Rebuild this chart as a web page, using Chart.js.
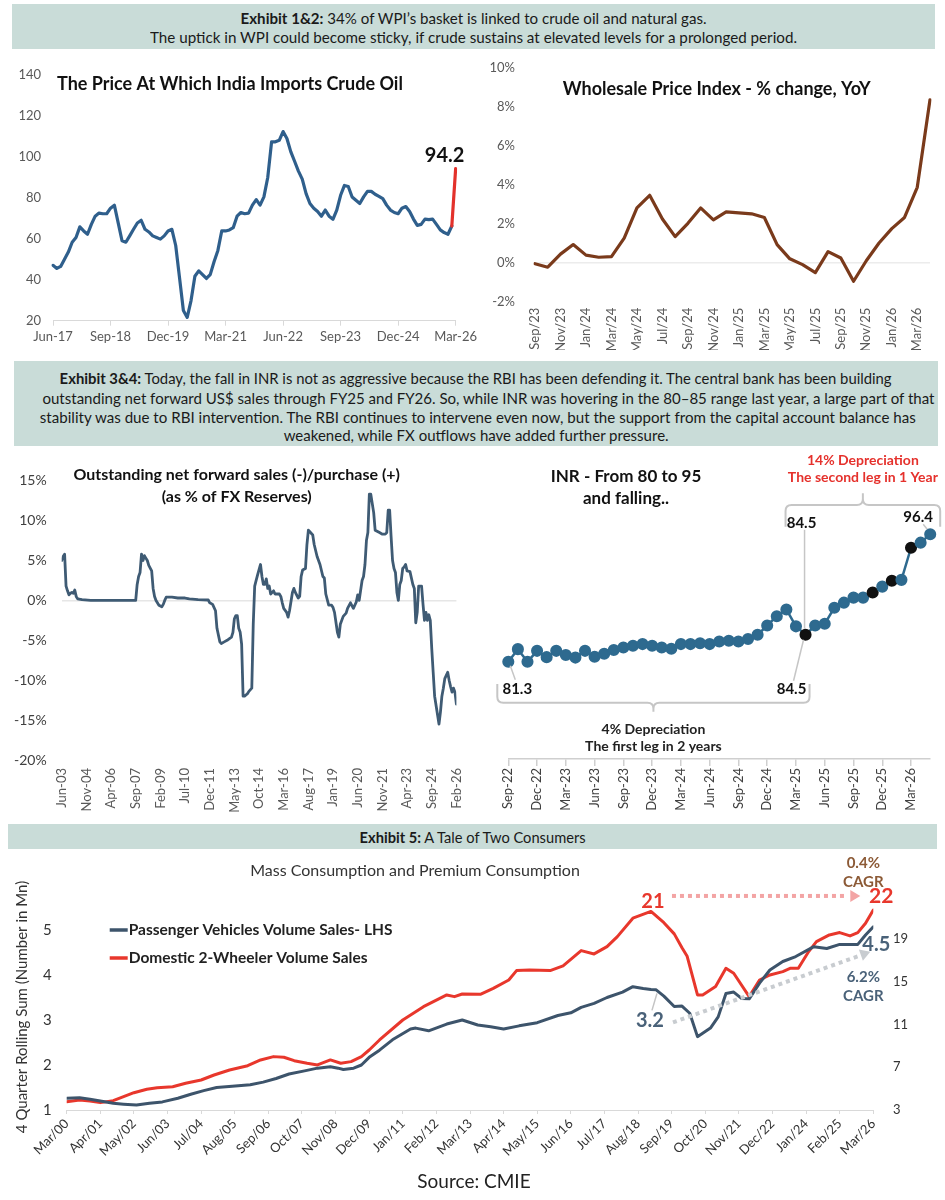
<!DOCTYPE html>
<html lang="en">
<head>
  <meta charset="UTF-8">
  <title>Crude, WPI, INR and two consumers</title>
  <script src="https://cdn.jsdelivr.net/npm/chart.js@4.4.1/dist/chart.umd.min.js"></script>
  <style>
    body { margin: 0; background: #fff; font-family: Lato, "Open Sans", sans-serif; color: #1a1a1a; }
    .page { position: relative; width: 945px; height: 1200px; overflow: hidden; }
    .banner { position: absolute; background: #c9dcd8; }
    .ln { position: absolute; left: 0; right: 0; text-align: center; white-space: nowrap; line-height: 20px; }
    .ln span { display: inline-block; transform-origin: center; }
    canvas { position: absolute; }
  </style>
</head>
<body>
<div class="page">
  <div class="banner" style="left:12px;top:4px;width:923px;height:45px;font-size:15px">
    <div class="ln" style="top:4px"><span data-fit="466"><b>Exhibit 1&amp;2:</b> 34% of WPI’s basket is linked to crude oil and natural gas.</span></div>
    <div class="ln" style="top:23px"><span data-fit="647">The uptick in WPI could become sticky, if crude sustains at elevated levels for a prolonged period.</span></div>
  </div>

  <canvas id="crudeChart" width="480" height="295" style="left:0;top:55px"></canvas>
  <canvas id="wpiChart" width="475" height="310" style="left:470px;top:40px"></canvas>

  <div class="banner" style="left:14px;top:361px;width:924px;height:85px;font-size:16px">
    <div class="ln" style="top:6.7px"><span data-fit="832"><b>Exhibit 3&amp;4:</b> Today, the fall in INR is not as aggressive because the RBI has been defending it. The central bank has been building</span></div>
    <div class="ln" style="top:26.7px"><span data-fit="892">outstanding net forward US$ sales through FY25 and FY26. So, while INR was hovering in the 80–85 range last year, a large part of that</span></div>
    <div class="ln" style="top:45.7px"><span data-fit="876">stability was due to RBI intervention. The RBI continues to intervene even now, but the support from the capital account balance has</span></div>
    <div class="ln" style="top:64px"><span data-fit="385">weakened, while FX outflows have added further pressure.</span></div>
  </div>

  <canvas id="fwdChart" width="480" height="365" style="left:0;top:455px"></canvas>
  <canvas id="inrChart" width="475" height="370" style="left:470px;top:450px"></canvas>

  <div class="banner" style="left:8px;top:824px;width:929px;height:25px;font-size:15px">
    <div class="ln" style="top:3px"><span data-fit="226"><b>Exhibit 5:</b> A Tale of Two Consumers</span></div>
  </div>

  <canvas id="consChart" width="945" height="350" style="left:0;top:850px"></canvas>
</div>

<script>
// ---------- data ----------
// Indian crude basket, US$/bbl, monthly from Jun-17
const crudePrice = [
  47, 45.5, 46.5, 50, 53.5, 58.3, 60.6,
  65.8, 63.8, 62.2, 67, 71, 72.5, 72.2, 72.2, 74.9, 76.4, 67.7, 59,
  58.3, 61.4, 64.6, 67.7, 69, 64.6, 63.3, 61.4, 60.6, 59.8, 61.4, 63.8,
  64.6, 56.7, 40.9, 25, 21.6, 29.8, 41.7, 44.3, 42.5, 40.6, 42.5, 48.8,
  54.3, 63.8, 63.8, 64.3, 65.4, 71, 72.8, 72.2, 72.5, 76.4, 79.1, 76.4,
  80.4, 89.9, 107.3, 107.3, 108, 112.3, 108.9, 102.5, 97.8, 93, 89.1, 82,
  77.2, 74.9, 73.3, 71, 74, 71, 69.5, 74, 81.2, 86, 85.5, 80.4,
  78.8, 77.2, 80.4, 83.1, 83.1, 81.7, 80.7, 79.6, 76.4, 74, 72.8, 72.2,
  74.9, 75.7, 73.3, 69.6, 66.5, 67, 69.6, 69.3, 69.6, 67, 64.3, 63,
  62.2, 66.2, 94.2
];
const crudeTickEvery = 15;

// WPI % change YoY, monthly from Sep/23
const wpiChange = [
  -0.05, -0.23, 0.44, 0.93, 0.39, 0.28, 0.31, 1.26, 2.81, 3.46, 2.24, 1.34,
  2.02, 2.81, 2.2, 2.61, 2.56, 2.51, 2.32, 0.93, 0.2, -0.1, -0.51, 0.57,
  0.24, -0.95, 0.1, 1.01, 1.75, 2.32, 3.87, 8.36
];

// Outstanding net forward position, % of FX reserves; months after Jun-03
const fwdMonth = [
  0, 1, 2, 3, 4, 5, 6, 7, 8, 9, 10, 11, 14, 20, 51, 52, 53, 54, 55, 56, 57, 58, 59, 60, 62, 63, 64, 65,
  67, 69, 70, 71, 72, 76, 80, 85, 88, 94, 101, 102, 104, 106, 107, 109, 110, 112, 114, 117, 118, 119,
  120, 121, 122, 123, 124, 125, 126, 128, 129, 131, 132, 133, 134, 135, 137, 138, 139, 140, 141, 142,
  143, 144, 146, 147, 150, 151, 152, 153, 155, 156, 157, 159, 160, 161, 163, 164, 165, 166, 168, 169,
  170, 171, 173, 174, 176, 178, 180, 181, 182, 184, 186, 187, 188, 190, 191, 192, 194, 196, 197, 199,
  201, 203, 204, 205, 207, 208, 209, 210, 211, 212, 213, 215, 216, 219, 221, 223, 224, 225, 226, 227,
  228, 229, 230, 231, 232, 233, 234, 235, 236, 237, 238, 240, 242, 243, 244, 245, 246, 248, 249, 250,
  251, 252, 253, 254, 255, 256, 257, 260, 261, 262, 263, 264, 266, 267, 268, 269, 270, 271, 272
];
const fwdValue = [
  5.0, 5.5, 5.8, 1.8, 1.2, 0.7, 0.9, 1.0, 0.9, 1.3, 0.5, 0.2, 0.1, 0.0, 0.0, 2.0, 3.0, 3.5, 5.8, 5.0, 5.6, 5.3, 5.0, 4.4, 3.7, 1.5, 0.5, 0.0,
  -0.6, -0.8, -0.5, 0.0, 0.4, 0.4, 0.3, 0.3, 0.2, 0.1, 0.05, -0.3, -0.5, -1.3, -3.5, -5.2, -5.4, -5.2, -5.0, -4.6, -4.0, -2.3,
  -1.9, -1.9, -3.5, -4.0, -5.5, -12.0, -12.0, -11.7, -11.4, -11.0, -3.0, 1.8, 2.5, 3.2, 4.5, 3.0, 2.0, 2.0, 2.7, 1.5,
  1.8, 0.8, 1.2, 0.8, 0.8, 0.5, -0.3, -1.0, -1.5, -2.1, -1.3, 1.0, 1.5, 1.0, 0.3, 0.5, 3.0, 3.8, 4.0, 7.0,
  8.8, 8.6, 8.2, 7.0, 5.5, 4.5, 3.0, 2.8, 0.8, -0.6, -0.6, -0.9, -1.5, -4.0, -4.6, -3.0, -2.0, -1.6, -1.0, -0.3,
  -1.0, -0.2, 0.7, 0.0, 2.5, 3.0, 4.5, 7.5, 8.5, 13.3, 13.3, 11.0, 8.8, 8.5, 8.3, 8.3, 8.5, 11.3, 11.3, 8.0,
  5.0, 4.0, 3.5, 1.0, 0.0, 2.0, 2.5, 4.0, 4.2, 4.5, 3.7, 3.6, 2.0, 1.5, -2.8, -1.5, 1.8, 1.8, -0.5, -2.5,
  -1.5, -2.5, -1.8, -2.5, -6.0, -9.0, -12.0, -15.5, -14.0, -12.0, -11.0, -9.8, -9.0, -10.0, -10.8, -11.5, -11.0, -11.5, -13.0
];
const fwdTickLabels = ['Jun-03', 'Nov-04', 'Apr-06', 'Sep-07', 'Feb-09', 'Jul-10', 'Dec-11', 'May-13', 'Oct-14',
  'Mar-16', 'Aug-17', 'Jan-19', 'Jun-20', 'Nov-21', 'Apr-23', 'Sep-24', 'Feb-26'];
const fwdTickStep = 17;

// INR per US$, monthly from Sep-22
const inrRate = [
  81.3, 82.8, 81.3, 82.6, 81.85, 82.6, 82.1, 81.8, 82.6, 81.9, 82.25, 82.7,
  83.0, 83.2, 83.4, 83.2, 83.0, 82.85, 83.4, 83.4, 83.5, 83.4, 83.7, 83.8,
  83.7, 84.0, 84.5, 85.6, 86.7, 87.5, 85.5, 84.5, 85.6, 85.8, 87.7, 88.3,
  88.9, 88.9, 89.5, 90.2, 90.9, 91.0, 94.8, 95.4, 96.4
];
const inrMarked = [31, 38, 40, 42];
const inrTickEvery = 3;

// 4-quarter rolling sums (mn); months after Mar/00
const pvMonth = [0, 5, 9, 13, 18, 22, 27, 32, 37, 43, 48, 53, 58, 64, 71, 76, 81, 86, 92, 97, 102, 105, 107, 111,
  114, 117, 121, 126, 133, 135, 140, 147, 153, 159, 164, 169, 175, 182, 190, 195, 199, 204, 209, 215, 219,
  223, 226, 228, 231, 235, 238, 241, 244, 249, 252, 255, 258, 261, 264, 268, 272, 277, 282, 289, 294, 299, 306, 309, 312];
const pvSales = [1.26, 1.27, 1.24, 1.20, 1.15, 1.13, 1.11, 1.15, 1.18, 1.26, 1.35, 1.43, 1.50, 1.53, 1.56, 1.62, 1.70, 1.80, 1.87, 1.93, 1.96, 1.93, 1.90, 1.93,
  2.0, 2.17, 2.33, 2.56, 2.80, 2.82, 2.76, 2.91, 3.0, 2.89, 2.85, 2.80, 2.87, 2.94, 3.10, 3.16, 3.28, 3.37, 3.50, 3.62, 3.74,
  3.70, 3.68, 3.67, 3.53, 3.30, 3.31, 3.15, 2.63, 2.82, 3.07, 3.59, 3.62, 3.48, 3.47, 3.82, 4.11, 4.30, 4.41, 4.63, 4.59, 4.68, 4.68, 4.89, 5.07];
const twMonth = [0, 5, 9, 13, 18, 22, 26, 31, 35, 41, 46, 52, 57, 63, 70, 75, 80, 84, 88, 93, 97, 102, 106, 110,
  114, 117, 121, 130, 138, 147, 150, 153, 160, 165, 171, 174, 179, 187, 192, 199, 204, 209, 213, 219, 226,
  231, 235, 238, 240, 244, 246, 251, 255, 258, 264, 268, 272, 277, 280, 283, 287, 290, 295, 299, 303, 306, 309, 312];
const twSales = [3.78, 3.94, 3.84, 3.69, 3.87, 4.25, 4.62, 4.94, 5.09, 5.18, 5.5, 5.81, 6.28, 6.75, 7.15, 7.69, 8.0, 7.94, 7.62, 7.38, 7.22, 7.69, 7.38, 7.53,
  8.0, 8.62, 9.56, 11.43, 12.68, 13.78, 13.62, 13.87, 13.84, 14.40, 15.18, 16.06, 16.12, 16.06, 16.5, 17.93, 17.62, 18.3, 19.24, 20.97, 21.6,
  20.55, 19.5, 18.2, 17.4, 13.78, 13.78, 14.56, 16.28, 15.81, 13.62, 15.18, 15.65, 15.96, 16.28, 16.28, 17.84, 18.78, 19.4, 19.62, 19.31, 19.62, 20.5, 21.74];
const consPeakMonth = 226; // FY19 peak the CAGR arrows start from
const consTickLabels = ['Mar/00', 'Apr/01', 'May/02', 'Jun/03', 'Jul/04', 'Aug/05', 'Sep/06', 'Oct/07', 'Nov/08',
  'Dec/09', 'Jan/11', 'Feb/12', 'Mar/13', 'Apr/14', 'May/15', 'Jun/16', 'Jul/17', 'Aug/18', 'Sep/19', 'Oct/20',
  'Nov/21', 'Dec/22', 'Jan/24', 'Feb/25', 'Mar/26'];
const consTickStep = 13;
const pvTicks = [1, 2, 3, 4, 5];
const twTicks = [3, 7, 11, 15, 19];

// ---------- helpers ----------
const MON = ['Jan', 'Feb', 'Mar', 'Apr', 'May', 'Jun', 'Jul', 'Aug', 'Sep', 'Oct', 'Nov', 'Dec'];
function monthRange(year, month, count, sep) {
  return Array.from({ length: count }, (_, i) => {
    const t = year * 12 + month + i;
    return MON[t % 12] + sep + String(Math.floor(t / 12) % 100).padStart(2, '0');
  });
}
function txt(ctx, s, x, y, font, color, align) {
  ctx.save();
  ctx.font = font;
  ctx.fillStyle = color;
  ctx.textAlign = align || 'center';
  ctx.textBaseline = 'middle';
  ctx.fillText(s, x, y);
  ctx.restore();
}
function seg(ctx, x1, y1, x2, y2, color, width) {
  ctx.save();
  ctx.strokeStyle = color;
  ctx.lineWidth = width;
  ctx.beginPath();
  ctx.moveTo(x1, y1);
  ctx.lineTo(x2, y2);
  ctx.stroke();
  ctx.restore();
}
// dotted line with a solid triangle head
function dottedArrow(ctx, x1, y1, x2, y2, color) {
  const a = Math.atan2(y2 - y1, x2 - x1), head = 10, half = 6;
  const bx = x2 - head * Math.cos(a), by = y2 - head * Math.sin(a);
  ctx.save();
  ctx.strokeStyle = color;
  ctx.fillStyle = color;
  ctx.lineWidth = 4;
  ctx.setLineDash([4, 4]);
  ctx.beginPath();
  ctx.moveTo(x1, y1);
  ctx.lineTo(bx - 3 * Math.cos(a), by - 3 * Math.sin(a));
  ctx.stroke();
  ctx.setLineDash([]);
  ctx.beginPath();
  ctx.moveTo(x2, y2);
  ctx.lineTo(bx - half * Math.sin(a), by + half * Math.cos(a));
  ctx.lineTo(bx + half * Math.sin(a), by - half * Math.cos(a));
  ctx.closePath();
  ctx.fill();
  ctx.restore();
}
// rounded bracket: bar at y, ends run to endY, middle notch runs to notchY
function bracket(ctx, left, right, y, endY, notchY, color) {
  const cx = (left + right) / 2, r = 6;
  const s = Math.sign(endY - y), n = Math.sign(notchY - y);
  ctx.save();
  ctx.strokeStyle = color;
  ctx.lineWidth = 2;
  ctx.beginPath();
  ctx.moveTo(left, endY);
  ctx.lineTo(left, y + s * r);
  ctx.quadraticCurveTo(left, y, left + r, y);
  ctx.lineTo(cx - r, y);
  ctx.quadraticCurveTo(cx, y, cx, y + n * r);
  ctx.lineTo(cx, notchY);
  ctx.moveTo(cx, y + n * r);
  ctx.quadraticCurveTo(cx, y, cx + r, y);
  ctx.lineTo(right - r, y);
  ctx.quadraticCurveTo(right, y, right, y + s * r);
  ctx.lineTo(right, endY);
  ctx.stroke();
  ctx.restore();
}

Chart.defaults.font.family = 'Lato, "Open Sans", sans-serif';
Chart.defaults.color = '#595959';
Chart.defaults.responsive = false;
Chart.defaults.animation = false;
Chart.defaults.plugins.legend.display = false;
Chart.defaults.plugins.tooltip.enabled = false;
Chart.defaults.elements.point.radius = 0;
Chart.defaults.elements.line.borderJoinStyle = 'round';
Chart.defaults.elements.line.borderCapStyle = 'round';

const BOLD = 'bold ';
const hiddenGrid = { display: false, drawTicks: false };

// ---------- chart 1: crude oil ----------
const crudeNotes = {
  id: 'crudeNotes',
  afterDatasetsDraw(chart) {
    const { ctx, scales: { x, y } } = chart;
    txt(ctx, 'The Price At Which India Imports Crude Oil', 57, 29, BOLD + '18px Lato', '#111', 'left');
    const last = crudePrice.length - 1;
    txt(ctx, String(crudePrice[last]), x.getPixelForValue(last) - 11, y.getPixelForValue(crudePrice[last]) - 13,
      BOLD + '20px Lato', '#111');
  }
};
new Chart(document.getElementById('crudeChart'), {
  type: 'line',
  data: {
    labels: monthRange(2017, 5, crudePrice.length, '-'),
    datasets: [{
      data: crudePrice,
      borderColor: '#2f5f8c',
      borderWidth: 3.2,
      segment: { borderColor: c => c.p1DataIndex === crudePrice.length - 1 ? '#e3312b' : undefined }
    }]
  },
  options: {
    layout: { padding: { top: 12.7, right: 22, left: 0, bottom: 0 } },
    scales: {
      x: {
        afterBuildTicks: s => { s.ticks = s.ticks.filter(t => t.value % crudeTickEvery === 0); },
        ticks: { autoSkip: false, maxRotation: 0, font: { size: 13 }, padding: 3 },
        grid: { drawOnChartArea: false, tickLength: 5, color: '#d9d9d9' },
        border: { color: '#d9d9d9' },
        afterFit: s => { s.height = 29.3; }
      },
      y: {
        min: 20, max: 140,
        ticks: { stepSize: 20, padding: 12, font: { size: 13 } },
        grid: hiddenGrid, border: { display: false },
        afterFit: s => { s.width = 53; }
      }
    }
  },
  plugins: [crudeNotes]
});

// ---------- chart 2: WPI ----------
const wpiNotes = {
  id: 'wpiNotes',
  afterDatasetsDraw(chart) {
    txt(chart.ctx, 'Wholesale Price Index - % change, YoY', 246.7, 49.3, BOLD + '18px Lato', '#111');
  }
};
new Chart(document.getElementById('wpiChart'), {
  type: 'line',
  data: {
    labels: monthRange(2023, 8, wpiChange.length, '/'),
    datasets: [{ data: wpiChange, borderColor: '#7a3a1b', borderWidth: 3.2 }]
  },
  options: {
    layout: { padding: { top: 16.7, right: 15, left: 0, bottom: 0 } },
    scales: {
      x: {
        afterBuildTicks: s => { s.ticks = s.ticks.filter(t => t.value % 2 === 0); },
        ticks: { autoSkip: false, minRotation: 90, maxRotation: 90, font: { size: 13 }, padding: 6 },
        grid: hiddenGrid, border: { display: false },
        afterFit: s => { s.height = 48.3; }
      },
      y: {
        min: -2, max: 10,
        ticks: { stepSize: 2, padding: 20, font: { size: 13 }, callback: v => v + '%' },
        grid: { drawTicks: false, lineWidth: 1.5, color: c => c.tick.value === 0 ? '#ececec' : 'transparent' },
        border: { display: false },
        afterFit: s => { s.width = 65; }
      }
    }
  },
  plugins: [wpiNotes]
});

// ---------- chart 3: forward book ----------
const fwdNotes = {
  id: 'fwdNotes',
  afterDatasetsDraw(chart) {
    const ctx = chart.ctx;
    txt(ctx, 'Outstanding net forward sales (-)/purchase (+)', 236.7, 20, BOLD + '16px Lato', '#111');
    txt(ctx, '(as % of FX Reserves)', 236.7, 41.7, BOLD + '16px Lato', '#111');
  }
};
new Chart(document.getElementById('fwdChart'), {
  type: 'line',
  data: {
    datasets: [{
      data: fwdMonth.map((m, i) => ({ x: m, y: fwdValue[i] })),
      borderColor: '#3f5b74',
      borderWidth: 2.8
    }]
  },
  options: {
    layout: { padding: { top: 25.7, right: 18.3, left: 0, bottom: 0 } },
    scales: {
      x: {
        type: 'linear', min: 0, max: fwdMonth[fwdMonth.length - 1],
        afterBuildTicks: s => { s.ticks = fwdTickLabels.map((_, i) => ({ value: i * fwdTickStep })); },
        ticks: { autoSkip: false, minRotation: 90, maxRotation: 90, font: { size: 13 }, padding: 8,
          callback: v => fwdTickLabels[Math.round(v / fwdTickStep)] },
        grid: hiddenGrid, border: { display: false },
        afterFit: s => { s.height = 60; }
      },
      y: {
        min: -20, max: 15,
        ticks: { stepSize: 5, padding: 15, font: { size: 14 }, color: '#404040', callback: v => v + '%' },
        grid: { drawTicks: false, lineWidth: 1.5, color: c => c.tick.value === 0 ? '#e6e6e6' : 'transparent' },
        border: { display: false },
        afterFit: s => { s.width = 61.7; }
      }
    }
  },
  plugins: [fwdNotes]
});

// ---------- chart 4: INR ----------
const inrNotes = {
  id: 'inrNotes',
  afterDatasetsDraw(chart) {
    const { ctx, chartArea: area, scales: { x, y } } = chart;
    const px = i => x.getPixelForValue(i), py = i => y.getPixelForValue(inrRate[i]);
    const first = 0, trough = inrMarked[0], last = inrRate.length - 1;
    const grey = '#c6c6c6', lbl = BOLD + '15px Lato';

    txt(ctx, 'INR - From 80 to 95', 156, 26.7, BOLD + '17px Lato', '#111');
    txt(ctx, 'and falling..', 156, 48.3, BOLD + '17px Lato', '#111');

    // first leg
    seg(ctx, px(first) + 2, py(first) + 4, px(first) + 7, py(first) + 18, grey, 1.5);
    txt(ctx, inrRate[first].toFixed(1), px(first) + 9, py(first) + 27, lbl, '#111');
    seg(ctx, px(trough) - 2, py(trough) + 5, px(trough) - 12, py(trough) + 46, grey, 1.5);
    txt(ctx, inrRate[trough].toFixed(1), px(trough) - 14, py(trough) + 54, lbl, '#111');
    bracket(ctx, px(first) - 11, px(trough) + 4, area.bottom - 56.3, area.bottom - 75, area.bottom - 47.3, grey);
    txt(ctx, '4% Depreciation', (px(first) + px(trough)) / 2 - 3.5, area.bottom - 30, BOLD + '14px Lato', '#222');
    txt(ctx, 'The first leg in 2 years', (px(first) + px(trough)) / 2 - 3.5, area.bottom - 12.5, BOLD + '14px Lato', '#222');

    // second leg
    seg(ctx, px(trough) - 1, py(trough) - 6, px(trough) - 1, py(trough) - 105, grey, 1.5);
    txt(ctx, inrRate[trough].toFixed(1), px(trough) - 4, py(trough) - 112, lbl, '#111');
    seg(ctx, px(last) - 3, py(last) - 5, px(last) - 7, py(last) - 10, grey, 1.5);
    txt(ctx, inrRate[last].toFixed(1), px(last) - 12, py(last) - 17, lbl, '#111');
    bracket(ctx, px(trough) - 20, px(last) + 10, area.top + 35, area.top + 56.7, area.top + 23.3, grey);
    const cx = (px(trough) - 20 + px(last) + 10) / 2;
    txt(ctx, '14% Depreciation', cx, area.top - 10, BOLD + '14px Lato', '#e5312c');
    txt(ctx, 'The second leg in 1 Year', cx, area.top + 7, BOLD + '14px Lato', '#e5312c');
  }
};
const inrColors = inrRate.map((_, i) => inrMarked.includes(i) ? '#111111' : '#2e6a8f');
new Chart(document.getElementById('inrChart'), {
  type: 'line',
  data: {
    labels: monthRange(2022, 8, inrRate.length, '-'),
    datasets: [{
      data: inrRate,
      borderColor: '#2e6a8f',
      borderWidth: 2.5,
      pointRadius: 4.8,
      pointBackgroundColor: inrColors,
      pointBorderColor: inrColors,
      clip: false
    }]
  },
  options: {
    layout: { padding: { top: 20, right: 14.8, left: 38.3, bottom: 0 } },
    scales: {
      x: {
        afterBuildTicks: s => { s.ticks = s.ticks.filter(t => t.value % inrTickEvery === 0); },
        ticks: { autoSkip: false, minRotation: 90, maxRotation: 90, font: { size: 13 }, padding: 2, color: '#404040' },
        grid: { drawOnChartArea: false, tickLength: 7, color: '#cfcfcf', lineWidth: 1.5 },
        border: { color: '#cfcfcf', width: 1.5 },
        afterFit: s => { s.height = 61; }
      },
      y: { display: false, min: 69.8, max: 104 }
    }
  },
  plugins: [inrNotes]
});

// ---------- chart 5: two consumers ----------
const consNotes = {
  id: 'consNotes',
  afterDatasetsDraw(chart) {
    const { ctx, chartArea: area, scales: { x, y, y1 } } = chart;
    const pvC = '#3d546b', twC = '#e8372c', pvLbl = '#4a6279';

    txt(ctx, 'Mass Consumption and Premium Consumption', 415, 20.7, '16px Lato', '#333');
    ctx.save();
    ctx.translate(22, (area.top + area.bottom) / 2 + 7);
    ctx.rotate(-Math.PI / 2);
    txt(ctx, '4 Quarter Rolling Sum (Number in Mn)', 0, 0, '15px Lato', '#333');
    ctx.restore();
    txt(ctx, 'Source: CMIE', 474, 332, '19px Lato', '#222');

    // legend
    const lx = area.left + 43, ly = area.top + 40;
    seg(ctx, lx, ly, lx + 18, ly, pvC, 3.5);
    txt(ctx, 'Passenger Vehicles Volume Sales- LHS', lx + 19, ly, BOLD + '15.5px Lato', '#222', 'left');
    seg(ctx, lx, ly + 28, lx + 18, ly + 28, twC, 3.5);
    txt(ctx, 'Domestic 2-Wheeler Volume Sales', lx + 19, ly + 28, BOLD + '15.5px Lato', '#222', 'left');

    // peak-to-now annotations
    const lastTw = twSales.length - 1, lastPv = pvSales.length - 1;
    const twAtPeak = twSales[twMonth.indexOf(consPeakMonth)];
    const pvAtPeak = pvSales[pvMonth.indexOf(consPeakMonth)];
    const xp = x.getPixelForValue(consPeakMonth), xe = x.getPixelForValue(twMonth[lastTw]);
    const yTwPk = y1.getPixelForValue(twAtPeak), yTwEnd = y1.getPixelForValue(twSales[lastTw]);
    const yPvPk = y.getPixelForValue(pvAtPeak), yPvEnd = y.getPixelForValue(pvSales[lastPv]);

    txt(ctx, '21', xp + 2, yTwPk - 10, BOLD + '20px Lato', twC);
    dottedArrow(ctx, xp + 21, yTwPk - 15.5, xe - 13, yTwPk - 15.5, '#f3a4a4');
    txt(ctx, '22', xe + 8, yTwEnd - 14, BOLD + '21px Lato', twC);
    txt(ctx, '0.4%', xe - 10, yTwEnd - 47, BOLD + '15px Lato', '#8c5a36');
    txt(ctx, 'CAGR', xe - 10, yTwEnd - 28, BOLD + '15px Lato', '#8c5a36');

    seg(ctx, xp + 1, yPvPk + 21, xp + 6, yPvPk + 4, '#c4c4c4', 1.5);
    txt(ctx, '3.2', xp - 1, yPvPk + 31, BOLD + '20px Lato', pvLbl);
    dottedArrow(ctx, xp + 22, yPvPk + 33, xe - 3, yPvEnd + 25, '#c8ccd0');
    txt(ctx, '4.5', xe + 3, yPvEnd + 18, BOLD + '20px Lato', pvLbl);
    txt(ctx, '6.2%', xe - 10, yPvEnd + 50, BOLD + '15px Lato', pvLbl);
    txt(ctx, 'CAGR', xe - 10, yPvEnd + 69, BOLD + '15px Lato', pvLbl);
  }
};
new Chart(document.getElementById('consChart'), {
  type: 'line',
  data: {
    datasets: [
      { data: pvMonth.map((m, i) => ({ x: m, y: pvSales[i] })), borderColor: '#3d546b', borderWidth: 3, yAxisID: 'y' },
      { data: twMonth.map((m, i) => ({ x: m, y: twSales[i] })), borderColor: '#e8372c', borderWidth: 3, yAxisID: 'y1' }
    ]
  },
  options: {
    layout: { padding: { top: 40, right: 0, left: 0, bottom: 0 } },
    scales: {
      x: {
        type: 'linear', min: 0, max: consTickStep * (consTickLabels.length - 1),
        afterBuildTicks: s => { s.ticks = consTickLabels.map((_, i) => ({ value: i * consTickStep })); },
        ticks: { autoSkip: false, minRotation: 45, maxRotation: 45, font: { size: 13 }, padding: 2, color: '#333',
          callback: v => consTickLabels[Math.round(v / consTickStep)] },
        grid: { drawOnChartArea: false, tickLength: 4, color: '#d9d9d9' },
        border: { color: '#d9d9d9' },
        afterFit: s => { s.height = 90; }
      },
      y: {
        position: 'left', min: 1, max: 1 + 220 / 45,
        afterBuildTicks: s => { s.ticks = pvTicks.map(v => ({ value: v })); },
        ticks: { padding: 15, font: { size: 15 }, color: '#333' },
        grid: hiddenGrid, border: { display: false },
        afterFit: s => { s.width = 66.7; }
      },
      y1: {
        position: 'right', min: 3, max: 3 + 220 / 10.675,
        afterBuildTicks: s => { s.ticks = twTicks.map(v => ({ value: v })); },
        ticks: { padding: 19.7, font: { size: 13 }, color: '#333' },
        grid: hiddenGrid, border: { display: false },
        afterFit: s => { s.width = 71.7; }
      }
    }
  },
  plugins: [consNotes]
});

// squeeze banner lines to the widths of the original text
document.querySelectorAll('[data-fit]').forEach(el => {
  const w = el.getBoundingClientRect().width;
  el.style.transform = 'scaleX(' + (Number(el.dataset.fit) / w).toFixed(4) + ')';
});
</script>
</body>
</html>
